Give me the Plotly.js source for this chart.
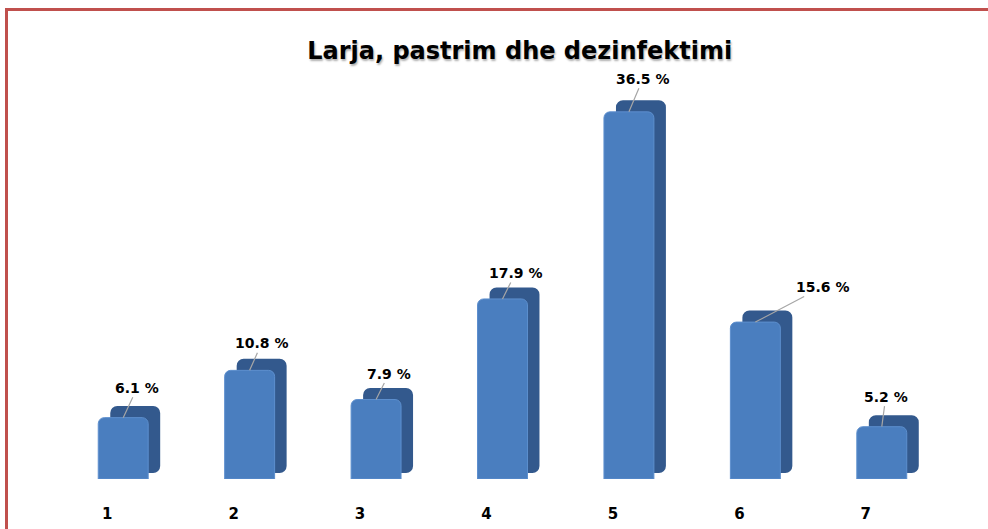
<!DOCTYPE html>
<html>
<head>
<meta charset="utf-8">
<script src="https://cdn.plot.ly/plotly-3.0.1.min.js"></script>
<style>
html,body{margin:0;padding:0;background:#fff;overflow:hidden;}
#chart{width:988px;height:529px;}
#frame{position:absolute;left:5px;top:8px;width:1100px;height:700px;border:3px solid #c0504d;pointer-events:none;box-sizing:border-box;}
</style>
</head>
<body>
<div id="chart"></div>
<div id="frame"></div>
<script>
// Data
var categories = ['1','2','3','4','5','6','7'];
var values = [6.1, 10.8, 7.9, 17.9, 36.5, 15.6, 5.2];
var labels = ['6.1 %','10.8 %','7.9 %','17.9 %','36.5 %','15.6 %','5.2 %'];
var labelDx = [14, 12, 13, 13, 14, 67, 4];
var labelDy = [-30, -27, -26, -26, -33, -35, -30];

var depthTop = 1.15;   // 3D cap rise in y units
var depthBase = 0.6;   // 3D side bottom rise in y units
var sideTrace = {
  type:'bar', x:categories,
  y:values.map(function(v){return v + depthTop - depthBase;}),
  base: categories.map(function(){return depthBase;}),
  width:0.395, offset:-0.1025,
  marker:{color:'#33598d', cornerradius:7},
  hoverinfo:'skip', showlegend:false
};
var frontTrace = {
  type:'bar', x:categories, y:values,
  width:0.395, offset:-0.1975,
  marker:{color:'#4a7ebf', line:{color:'#5d8fce', width:1}, cornerradius:6},
  showlegend:false
};

var annotations = categories.map(function(c,i){
  return {
    x:i, y:values[i], xref:'x', yref:'y',
    text:labels[i], showarrow:true, arrowhead:0, arrowwidth:1.2,
    arrowcolor:'#a6a6a6', ax:labelDx[i], ay:labelDy[i],
    font:{family:'DejaVu Sans', size:14, color:'#000', weight:'bold'}
  };
});

var layout = {
  width:988, height:529,
  margin:{l:60, r:43, t:70, b:50},
  paper_bgcolor:'#fff', plot_bgcolor:'#fff',
  barmode:'overlay',
  title:{text:'<b>Larja, pastrim dhe dezinfektimi</b>', xref:'container', yref:'container',
    x:0.526, y:0.905, xanchor:'center', yanchor:'middle',
    font:{family:'DejaVu Sans', size:24, color:'#000', shadow:'1px 2px 2px #b0b0b0'}},
  xaxis:{type:'category', range:[-0.5,6.5], showgrid:false, zeroline:false, showline:false,
    ticks:'', ticklabelshift:-16, ticklabelstandoff:24,
    tickfont:{family:'DejaVu Sans', size:15, color:'#000', weight:'bold'}},
  yaxis:{range:[0,40.66], visible:false, showgrid:false, zeroline:false},
  annotations:annotations
};

Plotly.newPlot('chart',[sideTrace, frontTrace], layout, {displayModeBar:false, staticPlot:true});
</script>
</body>
</html>
